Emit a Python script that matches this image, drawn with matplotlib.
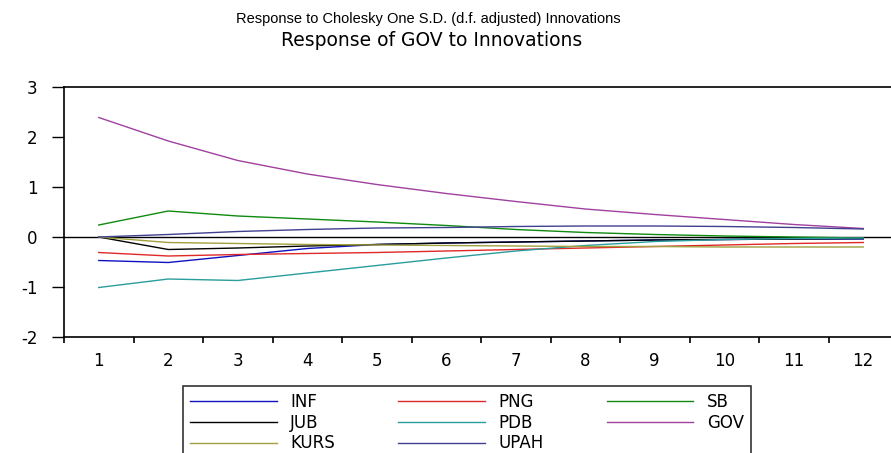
import matplotlib
matplotlib.use("Agg")
import matplotlib.pyplot as plt
from matplotlib.ticker import FixedLocator, NullFormatter

# Impulse responses of GOV, 12 periods
periods = list(range(1, 13))
inf = [-0.47, -0.51, -0.37, -0.23, -0.15, -0.12, -0.10, -0.08, -0.06, -0.05, -0.04, -0.04]
png = [-0.31, -0.38, -0.35, -0.33, -0.31, -0.28, -0.25, -0.22, -0.19, -0.16, -0.13, -0.11]
sb = [0.24, 0.52, 0.42, 0.36, 0.30, 0.23, 0.15, 0.09, 0.05, 0.02, 0.00, -0.02]
jub = [0.00, -0.25, -0.22, -0.18, -0.15, -0.12, -0.10, -0.08, -0.06, -0.05, -0.04, -0.03]
pdb = [-1.01, -0.84, -0.87, -0.72, -0.57, -0.42, -0.28, -0.17, -0.09, -0.05, -0.03, -0.02]
gov = [2.39, 1.92, 1.53, 1.26, 1.05, 0.87, 0.71, 0.56, 0.45, 0.35, 0.25, 0.17]
kurs = [0.00, -0.11, -0.13, -0.15, -0.16, -0.17, -0.18, -0.19, -0.19, -0.20, -0.20, -0.20]
upah = [0.00, 0.05, 0.11, 0.15, 0.18, 0.19, 0.21, 0.22, 0.22, 0.21, 0.19, 0.16]

series_names = ["INF", "PNG", "SB", "JUB", "PDB", "GOV", "KURS", "UPAH"]
series_values = [inf, png, sb, jub, pdb, gov, kurs, upah]
series_colors = ["#1010c0", "#e02828", "#108a10", "#000000",
                 "#2a9d9d", "#a040a0", "#a0a040", "#404090"]

y_ticks = [-2, -1, 0, 1, 2, 3]

fig = plt.figure(figsize=(8.91, 4.53), dpi=100)
ax = fig.add_axes([64 / 891, 116 / 453, 834 / 891, 250 / 453])

lines = {}
for name, vals, col in zip(series_names, series_values, series_colors):
    (ln,) = ax.plot(periods, vals, color=col, linewidth=1.0, label=name)
    lines[name] = ln

ax.axhline(0, color="black", linewidth=1.0, zorder=0)

ax.set_xlim(0.5, 12.5)
ax.set_ylim(-2, 3)

# ticks sit between periods, labels sit on the periods
ax.xaxis.set_major_locator(FixedLocator([p - 0.5 for p in periods]))
ax.xaxis.set_major_formatter(NullFormatter())
ax.xaxis.set_minor_locator(FixedLocator(periods))
ax.set_xticklabels([str(p) for p in periods], minor=True)
ax.tick_params(axis="x", which="major", direction="out", length=4, width=1.2, color="black")
ax.tick_params(axis="x", which="minor", length=0, pad=11, labelsize=12)

ax.set_yticks(y_ticks)
ax.set_yticklabels([str(v) for v in y_ticks])
ax.tick_params(axis="y", direction="out", length=9, width=1.0, pad=10, labelsize=12)

for side in ["left", "bottom", "top", "right"]:
    ax.spines[side].set_linewidth(1.2)
    ax.spines[side].set_color("black")

for lab in ax.get_xticklabels(minor=True) + ax.get_yticklabels():
    lab.set_fontfamily("DejaVu Sans")

fig.text(428 / 891, 1 - 19 / 453, "Response to Cholesky One S.D. (d.f. adjusted) Innovations",
         ha="center", va="center", fontsize=10.5, family="Liberation Sans")
fig.text(432 / 891, 1 - 40 / 453, "Response of GOV to Innovations",
         ha="center", va="center", fontsize=13.5, family="DejaVu Sans")

# legend filled column-wise so rows read INF PNG SB / JUB PDB GOV / KURS UPAH
order = ["INF", "JUB", "KURS", "PNG", "PDB", "UPAH", "SB", "GOV"]
leg = fig.legend([lines[n] for n in order], order,
                 loc="upper left", bbox_to_anchor=(183 / 891, 1 - 386 / 453),
                 ncol=3, frameon=True, fancybox=False, shadow=False,
                 handlelength=5.2, handletextpad=0.8, columnspacing=3.8,
                 labelspacing=0.16, borderpad=0.42, borderaxespad=0,
                 prop={"family": "DejaVu Sans", "size": 12})
leg.get_frame().set_edgecolor("black")
leg.get_frame().set_linewidth(1.2)

fig.savefig("out.png", dpi=100)
